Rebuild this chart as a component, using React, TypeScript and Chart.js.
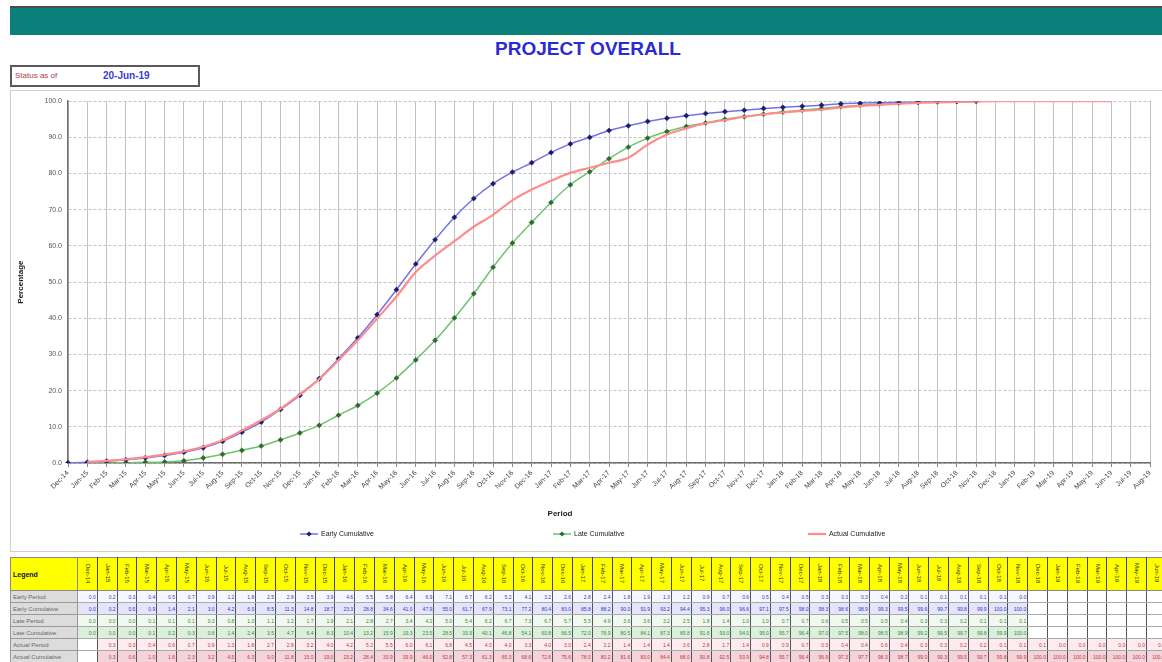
import React, { useEffect, useRef } from "react";
import { Chart, registerables } from "chart.js";

Chart.register(...registerables);

const periods = [
  "Dec-14",
  "Jan-15", "Feb-15", "Mar-15", "Apr-15", "May-15", "Jun-15", "Jul-15", "Aug-15", "Sep-15", "Oct-15", "Nov-15", "Dec-15",
  "Jan-16", "Feb-16", "Mar-16", "Apr-16", "May-16", "Jun-16", "Jul-16", "Aug-16", "Sep-16", "Oct-16", "Nov-16", "Dec-16",
  "Jan-17", "Feb-17", "Mar-17", "Apr-17", "May-17", "Jun-17", "Jul-17", "Aug-17", "Sep-17", "Oct-17", "Nov-17", "Dec-17",
  "Jan-18", "Feb-18", "Mar-18", "Apr-18", "May-18", "Jun-18", "Jul-18", "Aug-18", "Sep-18", "Oct-18", "Nov-18", "Dec-18",
  "Jan-19", "Feb-19", "Mar-19", "Apr-19", "May-19", "Jun-19", "Jul-19", "Aug-19",
];

const earlyCumulative: (number | null)[] = [
  0, 0.2, 0.5, 0.9, 1.4, 2.1, 3.0, 4.2, 6.0, 8.5, 11.3, 14.8, 18.7, 23.3, 28.8, 34.6, 41.0, 47.9,
  55.0, 61.7, 67.9, 73.1, 77.2, 80.4, 83.0, 85.8, 88.2, 90.0, 91.9, 93.2, 94.4, 95.3, 96.0, 96.6,
  97.1, 97.5, 98.0, 98.3, 98.6, 98.9, 99.3, 99.5, 99.6, 99.7, 99.8, 99.9, 100, 100,
  null, null, null, null, null, null, null, null, null,
];

const lateCumulative: (number | null)[] = [
  0, 0, 0, 0.1, 0.2, 0.3, 0.6, 1.4, 2.4, 3.5, 4.7, 6.4, 8.3, 10.4, 13.2, 15.9, 19.3, 23.5,
  28.5, 33.9, 40.1, 46.8, 54.1, 60.8, 66.5, 72.0, 76.9, 80.5, 84.1, 87.3, 89.8, 91.6, 93.0, 94.0,
  95.0, 95.7, 96.4, 97.0, 97.5, 98.0, 98.5, 98.9, 99.2, 99.5, 99.7, 99.8, 99.9, 100,
  null, null, null, null, null, null, null, null, null,
];

const actualCumulative: (number | null)[] = [
  null, 0.3, 0.6, 1.0, 1.6, 2.3, 3.2, 4.5, 6.3, 9.0, 11.8, 15.0, 19.0, 23.2, 28.4, 33.9, 39.9, 46.0,
  52.8, 57.3, 61.3, 65.3, 68.6, 72.6, 75.6, 78.0, 80.2, 81.6, 83.0, 84.4, 88.0, 90.8, 92.5, 93.9,
  94.8, 95.7, 96.4, 96.9, 97.3, 97.7, 98.3, 98.7, 99.0, 99.3, 99.5, 99.7, 99.8, 99.9, 100,
  100, 100, 100, 100, 100, 100, null, null,
];

const yTicks = [0, 10, 20, 30, 40, 50, 60, 70, 80, 90, 100];

const seriesNames = ["Early Cumulative", "Late Cumulative", "Actual Cumulative"];
const rowNames = [
  "Early Period",
  "Early Cumulative",
  "Late Period",
  "Late Cumulative",
  "Actual Period",
  "Actual Cumulative",
];

const FONT = '"Liberation Sans", Arial, sans-serif';

const periodOf = (arr: (number | null)[]) =>
  arr.map((v, i) => {
    if (v === null) return null;
    const prev = i > 0 && arr[i - 1] !== null ? (arr[i - 1] as number) : 0;
    return v - prev;
  });

const overlayPlugin = {
  id: "overlayText",
  afterDraw(chart: any, _args: any, opts: any) {
    const { ctx, width, height } = chart;
    ctx.save();
    ctx.font = `bold 8px ${FONT}`;
    ctx.fillStyle = "#222";
    ctx.textAlign = "center";
    ctx.textBaseline = "middle";
    ctx.fillText(opts.xTitle, width * opts.xTitleFrac, height - 37);

    const y = height - 17;
    chart.data.datasets.forEach((ds: any, i: number) => {
      const x = width * opts.legendFracs[i];
      ctx.strokeStyle = ds.borderColor;
      ctx.lineWidth = ds.borderWidth;
      ctx.beginPath();
      ctx.moveTo(x, y);
      ctx.lineTo(x + 18, y);
      ctx.stroke();
      if (ds.pointRadius > 0) {
        const r = 2.6;
        ctx.fillStyle = ds.pointBackgroundColor;
        ctx.beginPath();
        ctx.moveTo(x + 9, y - r);
        ctx.lineTo(x + 9 + r, y);
        ctx.lineTo(x + 9, y + r);
        ctx.lineTo(x + 9 - r, y);
        ctx.closePath();
        ctx.fill();
      }
      ctx.fillStyle = "#222";
      ctx.textAlign = "left";
      ctx.font = `7px ${FONT}`;
      ctx.fillText(ds.label, x + 21, y);
    });
    ctx.restore();
  },
};

export default function App() {
  const canvasRef = useRef<HTMLCanvasElement>(null);

  useEffect(() => {
    if (!canvasRef.current) return;
    const chart = new Chart(canvasRef.current, {
      type: "line",
      data: {
        labels: periods,
        datasets: [
          {
            label: seriesNames[0],
            data: earlyCumulative,
            borderColor: "#7373e6",
            borderWidth: 1.5,
            pointStyle: "rectRot",
            pointRadius: 2.6,
            pointBackgroundColor: "#1c1c6a",
            pointBorderColor: "#1c1c6a",
            pointBorderWidth: 0.5,
            cubicInterpolationMode: "monotone",
            order: 1,
          },
          {
            label: seriesNames[1],
            data: lateCumulative,
            borderColor: "#6cc46c",
            borderWidth: 1.5,
            pointStyle: "rectRot",
            pointRadius: 2.6,
            pointBackgroundColor: "#2f6a2f",
            pointBorderColor: "#2f6a2f",
            pointBorderWidth: 0.5,
            cubicInterpolationMode: "monotone",
            order: 2,
          },
          {
            label: seriesNames[2],
            data: actualCumulative,
            borderColor: "#ff8c8c",
            borderWidth: 2.2,
            pointRadius: 0,
            cubicInterpolationMode: "monotone",
            order: 0,
          },
        ],
      },
      options: {
        animation: false,
        responsive: true,
        maintainAspectRatio: false,
        events: [],
        layout: { padding: { left: 0, top: 10, right: 11, bottom: 28 } },
        plugins: {
          legend: { display: false },
          tooltip: { enabled: false },
          overlayText: {
            xTitle: "Period",
            xTitleFrac: 0.4774,
            legendFracs: [0.2513, 0.4713, 0.693],
          },
        } as any,
        scales: {
          x: {
            type: "category",
            offset: false,
            grid: {
              color: "#c2c2c2",
              lineWidth: 1,
              drawTicks: true,
              tickLength: 4,
              tickColor: "#888",
            },
            border: { display: true, color: "#707070", width: 1.5 },
            ticks: {
              autoSkip: false,
              maxRotation: 45,
              minRotation: 45,
              padding: 2,
              color: "#444",
              font: { size: 7, family: FONT },
            },
            afterFit: (scale: any) => {
              scale.height = 60;
            },
          },
          y: {
            min: 0,
            max: 100,
            afterBuildTicks: (scale: any) => {
              scale.ticks = yTicks.map((v) => ({ value: v }));
            },
            grid: { color: "#c2c2c2", lineWidth: 1, drawTicks: false },
            border: { display: true, color: "#707070", width: 1.5, dash: [3, 2] },
            ticks: {
              padding: 6,
              color: "#555",
              font: { size: 7, family: FONT },
              callback: (v: any) => Number(v).toFixed(1),
            },
            title: {
              display: true,
              text: "Percentage",
              color: "#222",
              font: { size: 8, weight: "bold", family: FONT },
              padding: { top: 5, bottom: 0 },
            },
            afterFit: (scale: any) => {
              scale.width = 57;
            },
          },
        },
      },
      plugins: [overlayPlugin],
    } as any);
    return () => chart.destroy();
  }, []);

  const tableRows = [
    { name: rowNames[0], values: periodOf(earlyCumulative), bg: "#f6f6ff", color: "#3838c8" },
    { name: rowNames[1], values: earlyCumulative, bg: "#e4e4fb", color: "#3838c8" },
    { name: rowNames[2], values: periodOf(lateCumulative), bg: "#f0f8f0", color: "#3a8a3a" },
    { name: rowNames[3], values: lateCumulative, bg: "#dcefdc", color: "#3a8a3a" },
    { name: rowNames[4], values: periodOf(actualCumulative), bg: "#fcecef", color: "#c03838" },
    { name: rowNames[5], values: actualCumulative, bg: "#f4d4da", color: "#c03838" },
  ];

  const colW = 19.8;
  const firstW = 67;

  return (
    <div
      style={{
        position: "absolute",
        left: 0,
        top: 0,
        width: 1162,
        height: 662,
        overflow: "hidden",
        background: "#fff",
        fontFamily: FONT,
      }}
    >
      <div style={{ position: "absolute", left: 10, top: 6, width: 1152, height: 2, background: "#4c4c4c" }} />
      <div style={{ position: "absolute", left: 10, top: 8, width: 1152, height: 27, background: "#0b7f7a" }} />
      <div
        style={{
          position: "absolute",
          left: 0,
          top: 38,
          width: 1176,
          textAlign: "center",
          fontSize: 19,
          lineHeight: "22px",
          fontWeight: "bold",
          color: "#2b2bd6",
        }}
      >
        PROJECT OVERALL
      </div>

      <div
        style={{
          position: "absolute",
          left: 10,
          top: 65,
          width: 190,
          height: 22,
          boxSizing: "border-box",
          border: "2px solid #5a5a5a",
          background: "#fff",
        }}
      >
        <span style={{ position: "absolute", left: 3, top: 4, fontSize: 8, lineHeight: "10px", color: "#b23a3a" }}>
          Status as of
        </span>
        <span
          style={{
            position: "absolute",
            left: 91,
            top: 3,
            fontSize: 10,
            lineHeight: "12px",
            fontWeight: "bold",
            color: "#3b3be0",
          }}
        >
          20-Jun-19
        </span>
      </div>

      <div
        style={{
          position: "absolute",
          left: 10,
          top: 90,
          width: 1170,
          height: 462,
          boxSizing: "border-box",
          border: "1px solid #cfcfcf",
        }}
      />
      <div style={{ position: "absolute", left: 11, top: 91, width: 1150, height: 460 }}>
        <canvas ref={canvasRef} />
      </div>

      <table
        style={{
          position: "absolute",
          left: 10,
          top: 557,
          borderCollapse: "collapse",
          tableLayout: "fixed",
          width: firstW + colW * periods.length,
          fontSize: 6,
        }}
      >
        <colgroup>
          <col style={{ width: firstW }} />
          {periods.map((p) => (
            <col key={p} style={{ width: colW }} />
          ))}
        </colgroup>
        <tbody>
          <tr style={{ height: 33 }}>
            <td
              style={{
                background: "#ffff00",
                border: "1px solid #888",
                fontWeight: "bold",
                fontSize: 7,
                padding: "0 2px",
                color: "#111",
              }}
            >
              Legend
            </td>
            {periods.map((p) => (
              <td
                key={p}
                style={{
                  background: "#ffff00",
                  borderTop: "1px solid #888",
                  borderBottom: "1px solid #888",
                  borderLeft: "1px solid #444",
                  borderRight: "1px solid #444",
                  padding: 0,
                  textAlign: "center",
                  verticalAlign: "middle",
                  overflow: "hidden",
                }}
              >
                <span style={{ writingMode: "vertical-rl", fontSize: 6, lineHeight: "7px", color: "#333" }}>{p}</span>
              </td>
            ))}
          </tr>
          {tableRows.map((row) => (
            <tr key={row.name} style={{ height: 12 }}>
              <td
                style={{
                  background: "#dcdcdc",
                  border: "1px solid #999",
                  color: "#666",
                  fontSize: 6,
                  padding: "0 2px",
                  whiteSpace: "nowrap",
                  overflow: "hidden",
                }}
              >
                {row.name}
              </td>
              {row.values.map((v, i) => (
                <td
                  key={i}
                  style={{
                    background: v === null ? "#fff" : row.bg,
                    borderTop: "1px solid #aaa",
                    borderBottom: "1px solid #aaa",
                    borderLeft: "1px solid #555",
                    borderRight: "1px solid #555",
                    color: row.color,
                    fontSize: 5,
                    textAlign: "right",
                    padding: "0 1px",
                    whiteSpace: "nowrap",
                    overflow: "hidden",
                  }}
                >
                  {v === null ? "" : v.toFixed(1)}
                </td>
              ))}
            </tr>
          ))}
        </tbody>
      </table>
    </div>
  );
}
